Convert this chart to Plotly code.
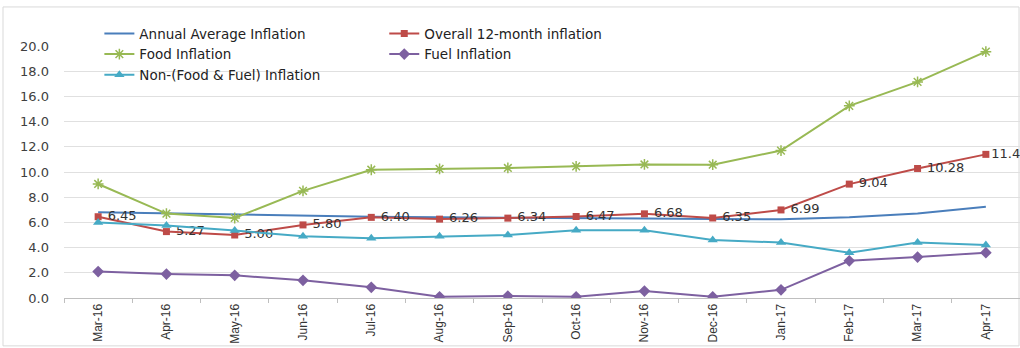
import plotly.graph_objects as go

months = ["Mar-16", "Apr-16", "May-16", "Jun-16", "Jul-16", "Aug-16", "Sep-16",
          "Oct-16", "Nov-16", "Dec-16", "Jan-17", "Feb-17", "Mar-17", "Apr-17"]

annual_avg = [6.8, 6.7, 6.6, 6.5, 6.45, 6.4, 6.35, 6.3, 6.3, 6.27, 6.25, 6.4, 6.7, 7.25]
overall = [6.45, 5.27, 5.00, 5.80, 6.40, 6.26, 6.34, 6.47, 6.68, 6.35, 6.99, 9.04, 10.28, 11.4]
overall_labels = ["6.45", "5.27", "5.00", "5.80", "6.40", "6.26", "6.34", "6.47", "6.68",
                  "6.35", "6.99", "9.04", "10.28", "11.4"]
food = [9.05, 6.7, 6.35, 8.5, 10.18, 10.25, 10.32, 10.45, 10.6, 10.58, 11.7, 15.25, 17.15, 19.55]
fuel = [2.1, 1.9, 1.8, 1.4, 0.85, 0.1, 0.15, 0.1, 0.55, 0.1, 0.65, 2.95, 3.25, 3.6]
non_food_fuel = [6.0, 5.75, 5.35, 4.9, 4.75, 4.9, 5.0, 5.38, 5.38, 4.6, 4.4, 3.6, 4.4, 4.2]

BLUE = "#4A7EBB"
RED = "#BE4B48"
GREEN = "#98B954"
PURPLE = "#7D60A0"
CYAN = "#46AAC5"

# one space of padding after each marker, none at the right edge
label_templates = [" %{text}"] * (len(overall_labels) - 1) + ["%{text}"]

fig = go.Figure()

fig.add_trace(go.Scatter(
    x=months, y=annual_avg, name="Annual Average Inflation", mode="lines",
    line=dict(color=BLUE, width=2), legend="legend"))
fig.add_trace(go.Scatter(
    x=months, y=overall, name="Overall 12-month inflation", mode="lines+markers+text",
    line=dict(color=RED, width=2), marker=dict(symbol="square", size=7, color=RED),
    text=overall_labels, texttemplate=label_templates, textposition="middle right",
    textfont=dict(family="DejaVu Sans", size=13, color="#333333"), legend="legend2"))
fig.add_trace(go.Scatter(
    x=months, y=food, name="Food Inflation", mode="lines+markers",
    line=dict(color=GREEN, width=2),
    marker=dict(symbol="asterisk-open", size=9, color=GREEN, line=dict(color=GREEN, width=1.5)),
    legend="legend"))
fig.add_trace(go.Scatter(
    x=months, y=fuel, name="Fuel Inflation", mode="lines+markers",
    line=dict(color=PURPLE, width=2), marker=dict(symbol="diamond", size=9, color=PURPLE),
    legend="legend2"))
fig.add_trace(go.Scatter(
    x=months, y=non_food_fuel, name="Non-(Food & Fuel) Inflation", mode="lines+markers",
    line=dict(color=CYAN, width=2), marker=dict(symbol="triangle-up", size=9, color=CYAN),
    legend="legend"))

legend_font = dict(family="DejaVu Sans", size=13.5, color="#222222")

fig.update_layout(
    width=1020, height=348,
    margin=dict(l=64, r=0, t=46, b=50),
    paper_bgcolor="white", plot_bgcolor="white",
    font=dict(family="DejaVu Sans", color="#404040"),
    showlegend=True,
    legend=dict(x=0.037, xanchor="left", y=1.11, yanchor="top", orientation="v",
                bgcolor="rgba(0,0,0,0)", font=legend_font, tracegroupgap=0),
    legend2=dict(x=0.335, xanchor="left", y=1.11, yanchor="top", orientation="v",
                 bgcolor="rgba(0,0,0,0)", font=legend_font, tracegroupgap=0),
    xaxis=dict(
        type="category", range=[-0.5, 13.5], tickangle=-90,
        tickfont=dict(family="Liberation Sans Narrow, Liberation Sans", size=12, color="#333333"),
        showgrid=False, showline=True, linecolor="#BFBFBF", linewidth=1,
        ticks="outside", ticklen=4, tickcolor="#BFBFBF", tickson="boundaries",
        zeroline=False),
    yaxis=dict(
        range=[0, 20], dtick=2, tickformat=".1f",
        tickfont=dict(family="DejaVu Sans", size=13, color="#404040"),
        showgrid=True, gridcolor="#E0E0E0", gridwidth=1,
        zeroline=False, showline=False, ticks="", ticklabelstandoff=14),
    shapes=[dict(type="rect", xref="paper", yref="paper",
                 x0=-0.0638, x1=0.999, y0=-0.19, y1=1.155,
                 line=dict(color="#D9D9D9", width=1), fillcolor="rgba(0,0,0,0)",
                 layer="below")],
)

fig.write_html("out.html")
